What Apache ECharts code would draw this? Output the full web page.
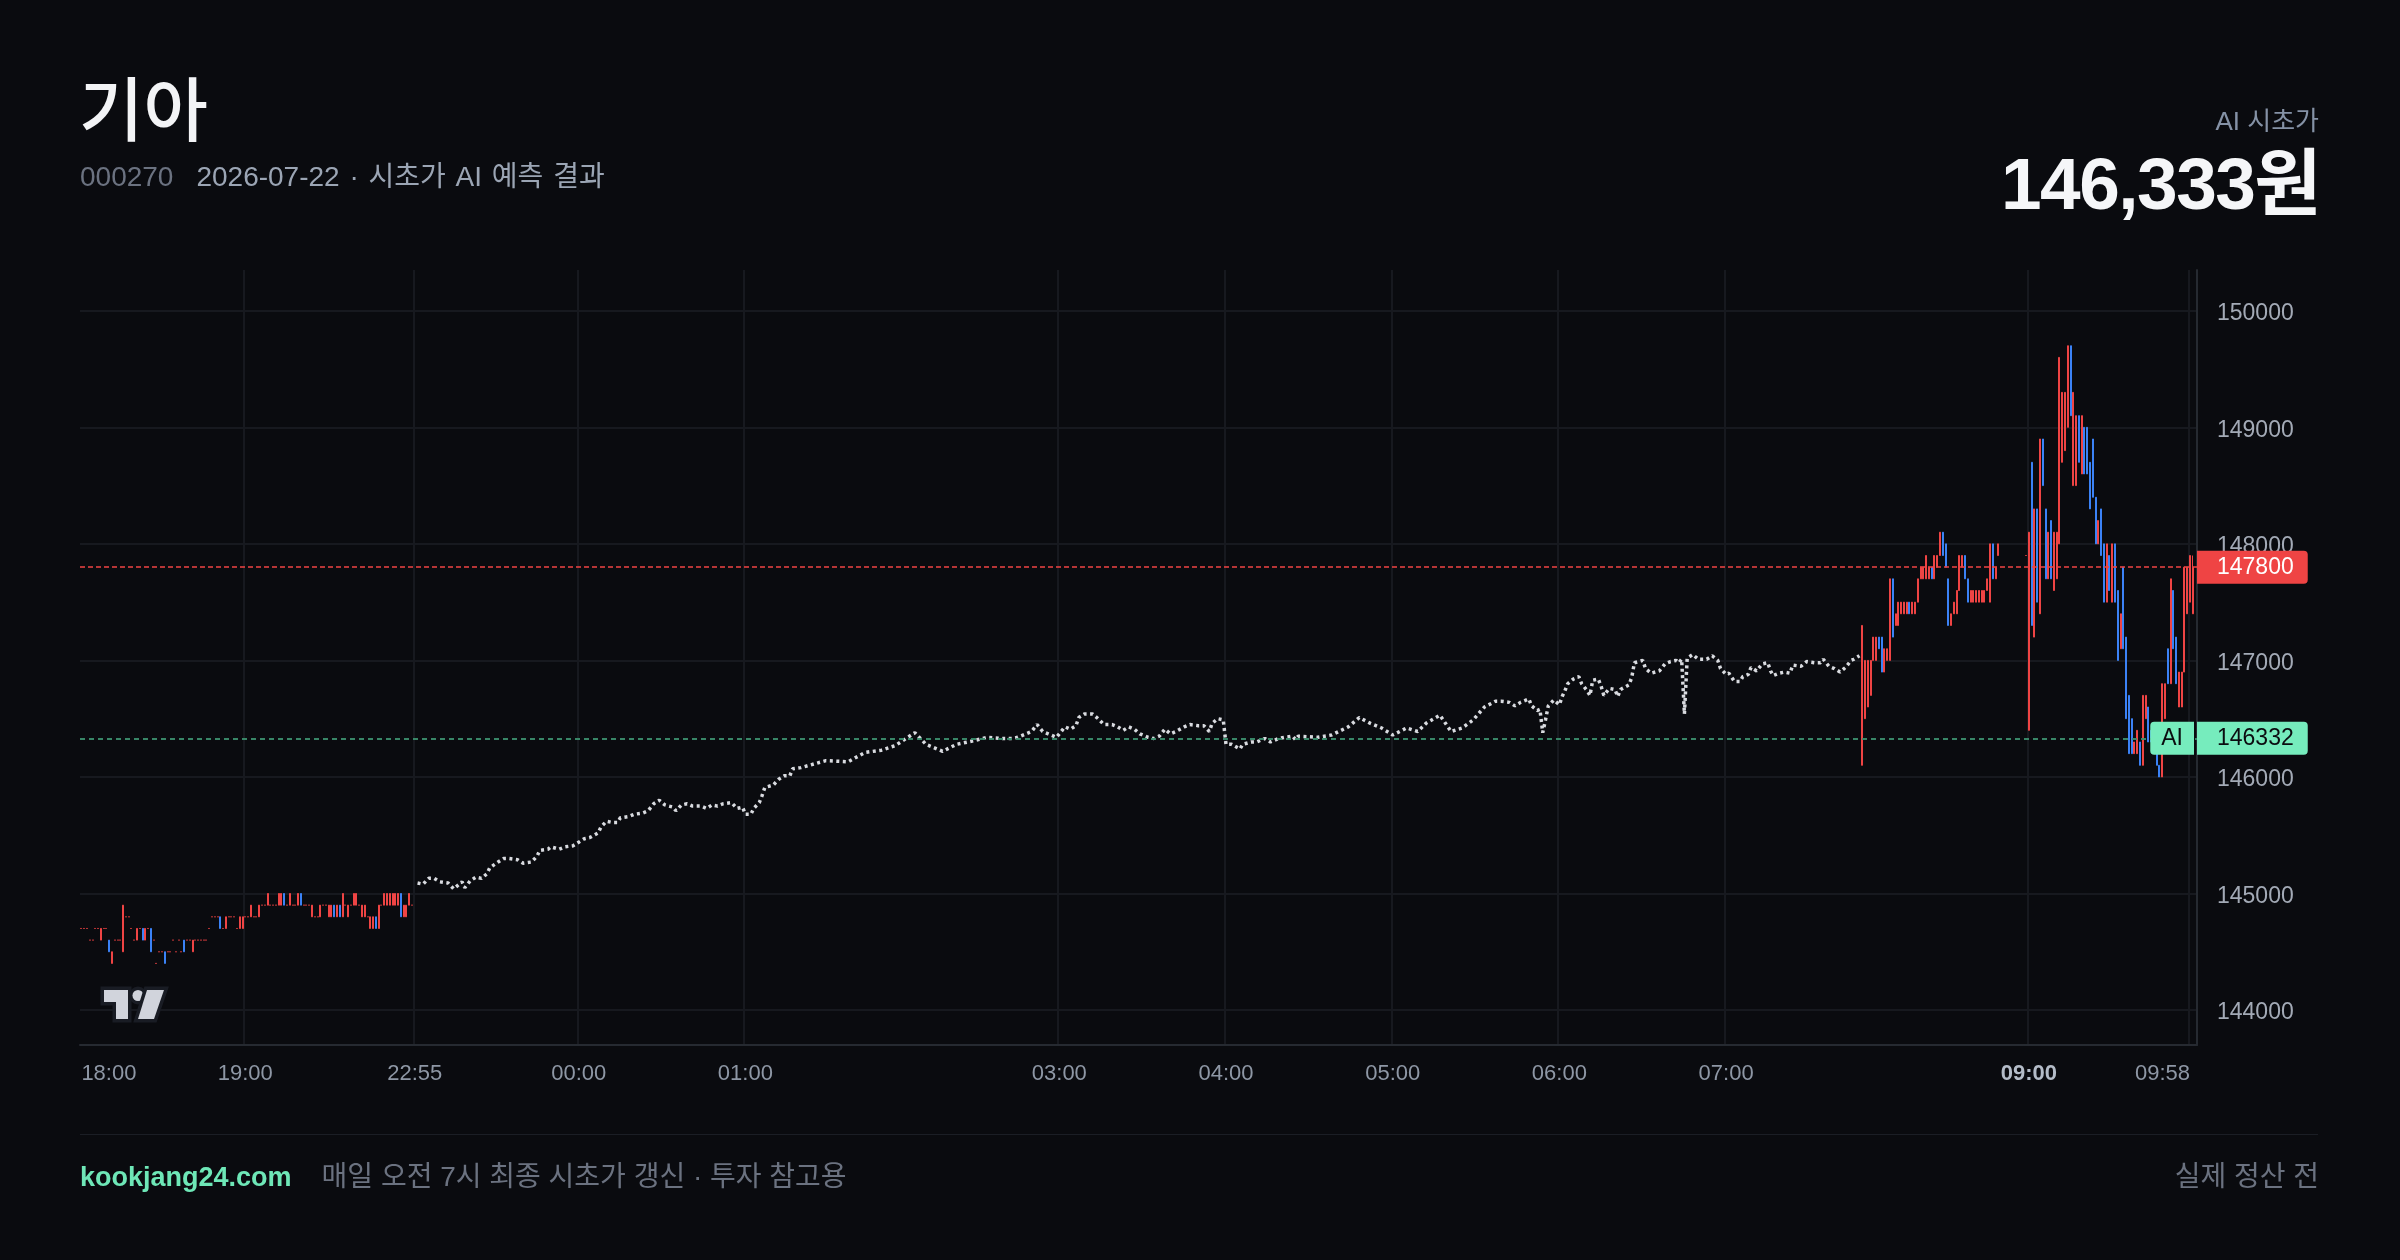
<!DOCTYPE html>
<html>
<head>
<meta charset="utf-8">
<title>기아 시초가 AI 예측</title>
<script src="https://cdn.jsdelivr.net/npm/echarts@6/dist/echarts.min.js"></script>
<style>
html, body { margin: 0; padding: 0; background: #0a0b0f; }
#page { position: relative; width: 2400px; height: 1260px; overflow: hidden;
  font-family: "Liberation Sans", "Noto Sans CJK KR", sans-serif; }
#chart { position: absolute; left: 0; top: 0; width: 2400px; height: 1260px; }
.t { position: absolute; white-space: nowrap; line-height: 1; }
</style>
</head>
<body>
<div id="page">
  <div id="chart"></div>
  <div class="t" style="left:79px;top:71px;font-size:70px;color:#f3f4f6;font-family:'Noto Sans CJK KR';font-weight:500;">기아</div>
  <div class="t" style="left:80px;top:163px;font-size:28px;">
    <span style="color:#6b7280">000270</span><span style="color:#9ba5b4;margin-left:23px;word-spacing:2px">2026-07-22 · 시초가 AI 예측 결과</span>
  </div>
  <div class="t" style="right:81px;top:108px;font-size:26px;color:#8592a6;">AI 시초가</div>
  <div class="t" style="right:80px;top:147px;font-size:73px;font-weight:700;color:#f5f6f8;letter-spacing:-1.5px;">146,333원</div>
  <div style="position:absolute;left:80px;width:2238px;top:1134px;height:1px;background:#1b1e25;"></div>
  <div class="t" style="left:80px;top:1163px;font-size:27px;">
    <span style="color:#6ee7b7;font-weight:700">kookjang24.com</span><span style="color:#6b7280;margin-left:30px;font-size:28px">매일 오전 7시 최종 시초가 갱신 · 투자 참고용</span>
  </div>
  <div class="t" style="right:81px;top:1163px;font-size:28px;color:#6b7280;">실제 정산 전</div>
</div>

<script>
// one slot = one 1-minute bar on the compressed time scale
var slotCount = 762;

// [slot, label]
var tickLabels = [
  [0, '18:00'], [59, '19:00'], [120, '22:55'], [179, '00:00'], [239, '01:00'],
  [352, '03:00'], [412, '04:00'], [472, '05:00'], [532, '06:00'], [592, '07:00'],
  [701, '09:00'], [759, '09:58']
];

// after-hours bars 18:00 - 20:00  [slot, open, close, low, high]
var eveningBars = [
  [0,144700,144700,144700,144700],[1,144700,144700,144700,144700],[2,144700,144700,144700,144700],
  [3,144600,144600,144600,144600],[4,144600,144600,144600,144600],[5,144700,144700,144700,144700],
  [6,144700,144700,144700,144700],[7,144600,144700,144600,144700],[8,144700,144700,144700,144700],
  [9,144700,144700,144700,144700],[10,144600,144500,144500,144600],[11,144400,144500,144400,144500],
  [12,144600,144600,144600,144600],[13,144600,144600,144600,144600],[14,144600,144600,144600,144600],
  [15,144500,144900,144500,144900],[16,144800,144800,144800,144800],[17,144800,144800,144800,144800],
  [18,144700,144700,144700,144700],[19,144600,144600,144600,144600],[20,144600,144700,144600,144700],
  [21,144700,144700,144700,144700],[22,144700,144600,144600,144700],[23,144600,144700,144600,144700],
  [24,144700,144700,144700,144700],[25,144700,144500,144500,144700],[26,144600,144600,144600,144600],
  [27,144400,144400,144400,144400],[28,144500,144500,144500,144500],[29,144500,144500,144500,144500],
  [30,144500,144400,144400,144500],[31,144500,144500,144500,144500],[32,144500,144500,144500,144500],
  [33,144600,144600,144600,144600],[34,144500,144500,144500,144500],[35,144600,144600,144600,144600],
  [36,144500,144500,144500,144500],[37,144600,144500,144500,144600],[38,144600,144600,144600,144600],
  [39,144600,144600,144600,144600],[40,144500,144600,144500,144600],[41,144600,144600,144600,144600],
  [42,144600,144600,144600,144600],[43,144600,144600,144600,144600],[44,144600,144600,144600,144600],
  [45,144600,144600,144600,144600],[46,144700,144700,144700,144700],[47,144800,144800,144800,144800],
  [48,144800,144800,144800,144800],[49,144800,144800,144800,144800],[50,144800,144700,144700,144800],
  [51,144700,144700,144700,144700],[52,144700,144800,144700,144800],[53,144800,144800,144800,144800],
  [54,144800,144800,144800,144800],[55,144800,144800,144800,144800],[56,144700,144700,144700,144700],
  [57,144700,144800,144700,144800],[58,144700,144800,144700,144800],[59,144800,144800,144800,144800],
  [60,144800,144800,144800,144800],[61,144800,144900,144800,144900],[62,144800,144800,144800,144800],
  [63,144800,144800,144800,144800],[64,144800,144900,144800,144900],[65,144900,144900,144900,144900],
  [66,144900,144900,144900,144900],[67,144900,145000,144900,145000],[68,144900,144900,144900,144900],
  [69,144900,144900,144900,144900],[70,144900,144900,144900,144900],[71,144900,145000,144900,145000],
  [72,144900,145000,144900,145000],[73,145000,144900,144900,145000],[74,144900,144900,144900,144900],
  [75,144900,145000,144900,145000],[76,144900,144900,144900,144900],[77,144900,144900,144900,144900],
  [78,144900,145000,144900,145000],[79,145000,144900,144900,145000],[80,144900,144900,144900,144900],
  [81,144900,144900,144900,144900],[82,144900,144900,144900,144900],[83,144800,144900,144800,144900],
  [84,144800,144800,144800,144800],[85,144800,144800,144800,144800],[86,144800,144900,144800,144900],
  [87,144900,144900,144900,144900],[88,144900,144900,144900,144900],[89,144800,144900,144800,144900],
  [90,144800,144900,144800,144900],[91,144900,144800,144800,144900],[92,144800,144900,144800,144900],
  [93,144900,144800,144800,144900],[94,144800,145000,144800,145000],[95,144900,144900,144900,144900],
  [96,144800,144900,144800,144900],[97,144900,144900,144900,144900],[98,144900,145000,144900,145000],
  [99,144900,145000,144900,145000],[100,144900,144900,144900,144900],[101,144800,144900,144800,144900],
  [102,144800,144900,144800,144900],[103,144800,144800,144800,144800],[104,144700,144800,144700,144800],
  [105,144700,144800,144700,144800],[106,144800,144700,144700,144800],[107,144700,144900,144700,144900],
  [108,144900,144900,144900,144900],[109,144900,145000,144900,145000],[110,144900,145000,144900,145000],
  [111,144900,145000,144900,145000],[112,144900,145000,144900,145000],[113,144900,145000,144900,145000],
  [114,144900,145000,144900,145000],[115,145000,144800,144800,145000],[116,144800,144900,144800,144900],
  [117,144800,144900,144800,144900],[118,144900,145000,144900,145000],[119,144900,144900,144900,144900]
];

// pre-market and regular session bars 08:00 - 09:59  [slot, open, close, low, high]
var morningBars = [
  [641,146100,147300,146100,147300],[642,146500,147000,146500,147000],[643,146600,147000,146600,147000],
  [644,146700,147000,146700,147000],[645,147000,147200,147000,147200],[646,147000,147200,147000,147200],
  [647,147200,147100,147100,147200],[648,147200,146900,146900,147200],[649,146900,147100,146900,147100],
  [650,147000,147100,147000,147100],[651,147000,147700,147000,147700],[652,147700,147200,147200,147700],
  [653,147300,147400,147300,147400],[654,147300,147500,147300,147500],[655,147400,147500,147400,147500],
  [656,147400,147500,147400,147500],[657,147400,147500,147400,147500],[658,147500,147400,147400,147500],
  [659,147400,147500,147400,147500],[660,147400,147500,147400,147500],[661,147500,147700,147500,147700],
  [662,147700,147800,147700,147800],[663,147700,147800,147700,147800],[664,147700,147900,147700,147900],
  [665,147700,147800,147700,147800],[666,147800,147700,147700,147800],[667,147700,147900,147700,147900],
  [668,147800,147900,147800,147900],[669,147900,148100,147900,148100],[670,148100,147900,147900,148100],
  [671,148000,147800,147800,148000],[672,147700,147300,147300,147700],[673,147300,147400,147300,147400],
  [674,147400,147500,147400,147500],[675,147400,147600,147400,147600],[676,147600,147900,147600,147900],
  [677,147800,147900,147800,147900],[678,147900,147700,147700,147900],[679,147700,147500,147500,147700],
  [680,147500,147600,147500,147600],[681,147500,147600,147500,147600],[682,147500,147600,147500,147600],
  [683,147500,147600,147500,147600],[684,147500,147600,147500,147600],[685,147500,147600,147500,147600],
  [686,147600,147700,147600,147700],[687,147500,148000,147500,148000],[688,148000,147700,147700,148000],
  [689,147700,147800,147700,147800],[690,147900,148000,147900,148000],[700,147900,147900,147900,147900],
  [701,146400,148100,146400,148100],[702,148700,147300,147300,148700],[703,147200,148300,147200,148300],
  [704,148300,147500,147500,148300],[705,147400,148900,147400,148900],[706,148900,148500,148500,148900],
  [707,148300,147700,147700,148300],[708,147700,148100,147700,148100],[709,148200,147700,147700,148200],
  [710,147600,148100,147600,148100],[711,147700,148100,147700,148100],[712,148000,149600,148000,149600],
  [713,148700,149300,148700,149300],[714,148800,149300,148800,149300],[715,149000,149700,149000,149700],
  [716,149700,149100,149100,149700],[717,148500,149300,148500,149300],[718,148500,149100,148500,149100],
  [719,149100,148700,148700,149100],[720,148600,149100,148600,149100],[721,149000,148600,148600,149000],
  [722,149000,148600,148600,149000],[723,148700,148300,148300,148700],[724,148900,148400,148400,148900],
  [725,148400,148000,148000,148400],[726,148000,148200,148000,148200],[727,148300,147900,147900,148300],
  [728,148000,147500,147500,148000],[729,147500,148000,147500,148000],[730,147900,147600,147600,147900],
  [731,147500,148000,147500,148000],[732,148000,147500,147500,148000],[733,147600,147000,147000,147600],
  [734,147100,147400,147100,147400],[735,147800,147100,147100,147800],[736,147200,146500,146500,147200],
  [737,146700,146200,146200,146700],[738,146500,146200,146200,146500],[739,146200,146300,146200,146300],
  [740,146200,146400,146200,146400],[741,146300,146100,146100,146300],[742,146100,146700,146100,146700],
  [743,146500,146700,146500,146700],[744,146600,146300,146300,146600],[745,146400,146300,146300,146400],
  [746,146200,146300,146200,146300],[747,146200,146100,146100,146200],[748,146100,146000,146000,146100],
  [749,146000,146800,146000,146800],[750,146500,146800,146500,146800],[751,147100,146800,146800,147100],
  [752,146800,147700,146800,147700],[753,147600,147100,147100,147600],[754,147200,146800,146800,147200],
  [755,146600,146900,146600,146900],[756,146600,146900,146600,146900],[757,146900,147800,146900,147800],
  [758,147400,147800,147400,147800],[759,147500,147900,147500,147900],[760,147400,147800,147400,147900]
];

// overnight AI projection path  [slot, price]
var projection = [
  [121,145090],[123,145080],[125,145130],[127,145130],[129,145100],[132,145090],[134,145040],[136,145080],
  [137,145100],[138,145050],[140,145110],[142,145140],[144,145130],[146,145170],[147,145220],[150,145270],
  [152,145300],[154,145300],[157,145290],[159,145260],[162,145270],[164,145320],[165,145370],[168,145380],
  [169,145400],[172,145380],[174,145400],[177,145410],[179,145440],[181,145470],[183,145480],[186,145520],
  [187,145570],[189,145620],[191,145610],[193,145610],[194,145650],[197,145660],[199,145680],[202,145690],
  [204,145710],[206,145770],[208,145800],[210,145760],[213,145740],[214,145710],[216,145760],[218,145770],
  [220,145750],[223,145750],[225,145730],[227,145760],[229,145750],[231,145770],[234,145780],[236,145730],
  [238,145740],[239,145680],[241,145680],[242,145730],[244,145780],[245,145840],[246,145910],[249,145930],
  [251,145980],[253,146010],[255,146010],[256,146070],[259,146080],[268,146140],[276,146130],[282,146210],
  [288,146230],[293,146270],[300,146380],[304,146280],[310,146220],[315,146280],[321,146310],[326,146340],
  [332,146330],[335,146330],[337,146340],[340,146370],[342,146390],[344,146450],[346,146390],[348,146370],
  [349,146360],[351,146340],[353,146400],[354,146430],[356,146410],[358,146440],[359,146510],[361,146540],
  [364,146540],[366,146500],[368,146450],[371,146450],[373,146430],[375,146400],[377,146430],[379,146410],
  [381,146370],[384,146340],[386,146330],[388,146350],[390,146410],[392,146370],[394,146390],[397,146430],
  [399,146450],[402,146440],[404,146440],[406,146390],[407,146460],[409,146500],[411,146490],[412,146280],
  [414,146280],[417,146240],[418,146280],[421,146300],[423,146300],[426,146330],[428,146300],[431,146330],
  [433,146340],[436,146350],[437,146320],[438,146350],[445,146340],[450,146360],[456,146430],[460,146510],
  [464,146460],[468,146420],[472,146360],[477,146420],[481,146390],[484,146460],[489,146530],[493,146390],
  [497,146420],[501,146490],[505,146600],[509,146650],[511,146650],[514,146640],[516,146610],[518,146640],
  [521,146670],[522,146610],[524,146570],[525,146580],[526,146380],[527,146490],[528,146610],[530,146660],
  [532,146620],[533,146690],[534,146740],[535,146800],[537,146840],[539,146860],[540,146800],[542,146740],
  [543,146700],[544,146830],[546,146840],[547,146780],[548,146700],[550,146760],[552,146750],[553,146690],
  [554,146750],[557,146790],[558,146850],[559,146980],[562,147000],[563,146930],[565,146890],[568,146910],
  [570,146970],[572,146990],[574,147000],[575,146980],[576,147010],[577,146540],[578,147020],[580,147050],
  [582,147010],[585,147010],[587,147040],[589,147000],[590,146930],[592,146880],[593,146890],[595,146820],
  [597,146820],[598,146860],[600,146880],[601,146940],[603,146910],[605,146970],[607,146980],[608,146910],
  [609,146870],[611,146890],[613,146900],[615,146890],[616,146960],[619,146950],[621,146990],[624,146980],
  [626,146980],[627,147010],[629,146950],[631,146930],[633,146900],[635,146940],[637,147000],[638,147010],
  [640,147040]
];

var lastPrice = 147800;
var aiOpenPrice = 146332;

var upColor = '#ef4444';
var downColor = '#3b82f6';
var mint = '#76ecbd';

var labelAt = {};
tickLabels.forEach(function (t) { labelAt[t[0]] = t[1]; });

var categories = [];
for (var i = 0; i < slotCount; i++) {
  var item = { value: String(i) };
  if (i === 0) item.textStyle = { align: 'left' };
  if (labelAt[i] === '09:58') item.textStyle = { align: 'right' };
  if (labelAt[i] === '09:00') item.textStyle = { fontWeight: 'bold', color: '#b4bcc8' };
  categories.push(item);
}

var bars = eveningBars.concat(morningBars);

var chart = echarts.init(document.getElementById('chart'));

var valueBox = {
  show: true,
  position: 'end',
  distance: 0,
  fontSize: 23,
  lineHeight: 23,
  fontFamily: 'Liberation Sans',
  padding: [5, 14, 5, 20],
  borderRadius: [0, 4, 4, 0]
};

var logoStyle = { fill: '#d1d4dc', stroke: '#191c24', lineWidth: 7, strokeFirst: true };

chart.setOption({
  backgroundColor: '#0a0b0f',
  animation: false,
  grid: { left: 80, right: 203, top: 270, bottom: 215 },
  xAxis: {
    type: 'category',
    data: categories,
    boundaryGap: true,
    axisLine: { show: true, lineStyle: { color: '#262a31', width: 2 } },
    axisTick: { show: false },
    axisLabel: {
      interval: function (index) { return labelAt[index] !== undefined; },
      formatter: function (value, index) { return labelAt[index] || ''; },
      color: '#8e97a5',
      fontSize: 22,
      fontFamily: 'Liberation Sans',
      margin: 18
    },
    splitLine: {
      show: true,
      interval: function (index) { return index !== 0 && labelAt[index] !== undefined; },
      lineStyle: { color: '#17191f', width: 2 }
    }
  },
  yAxis: {
    type: 'value',
    position: 'right',
    min: 143700,
    max: 150350,
    minInterval: 1000,
    maxInterval: 1000,
    axisLine: { show: true, lineStyle: { color: '#262a31', width: 2 } },
    axisTick: { show: false },
    axisLabel: {
      color: '#a3aab6', fontSize: 23, fontFamily: 'Liberation Sans', margin: 20,
      showMinLabel: false, showMaxLabel: false,
      formatter: function (v) { return '{p|' + v + '}'; },
      rich: { p: { color: '#a3aab6', fontSize: 23, fontFamily: 'Liberation Sans', padding: [6, 0, 0, 0] } }
    },
    splitLine: { lineStyle: { color: '#17191f', width: 2 }, showMinLine: false, showMaxLine: false }
  },
  series: [
    {
      type: 'candlestick',
      data: bars,
      encode: { x: 0, y: [1, 2, 3, 4] },
      barWidth: 1.5,
      large: false,
      silent: true,
      z: 2,
      itemStyle: {
        color: upColor, color0: downColor,
        borderColor: upColor, borderColor0: downColor, borderColorDoji: upColor,
        borderWidth: 1
      }
    },
    {
      type: 'line',
      data: projection,
      encode: { x: 0, y: 1 },
      symbol: 'none',
      showSymbol: false,
      silent: true,
      z: 3,
      lineStyle: { color: '#d9dbe0', width: 3.5, type: [3, 3.5] },
      markLine: {
        silent: true,
        symbol: ['none', 'none'],
        animation: false,
        data: [
          {
            yAxis: lastPrice,
            lineStyle: { color: upColor, type: [5, 3], width: 1.5 },
            label: Object.assign({}, valueBox, { formatter: String(lastPrice), backgroundColor: upColor, color: '#ffffff' })
          },
          {
            yAxis: aiOpenPrice,
            lineStyle: { color: '#3d8f6d', type: [5, 4], width: 1.5 },
            label: Object.assign({}, valueBox, { formatter: String(aiOpenPrice), backgroundColor: mint, color: '#0b0c10' })
          },
          {
            yAxis: aiOpenPrice,
            lineStyle: { color: '#3d8f6d', type: [5, 4], width: 1.5 },
            label: {
              show: true, position: 'insideEndTop', distance: [3, 0], formatter: 'AI',
              fontSize: 23, lineHeight: 23, fontFamily: 'Liberation Sans',
              padding: [5, 11, 5, 11], backgroundColor: mint, color: '#0b0c10',
              borderRadius: [4, 0, 0, 4], verticalAlign: 'middle', align: 'right'
            }
          }
        ]
      }
    }
  ],
  graphic: [
    { type: 'polygon', silent: true, z: 50,
      shape: { points: [[104, 990], [128, 990], [128, 1019], [116, 1019], [116, 1002], [104, 1002]] },
      style: logoStyle },
    { type: 'circle', silent: true, z: 50, shape: { cx: 138, cy: 995.5, r: 5.5 }, style: logoStyle },
    { type: 'polygon', silent: true, z: 50,
      shape: { points: [[147, 990], [164, 990], [154, 1019], [138, 1019]] },
      style: logoStyle }
  ]
});
</script>
</body>
</html>
